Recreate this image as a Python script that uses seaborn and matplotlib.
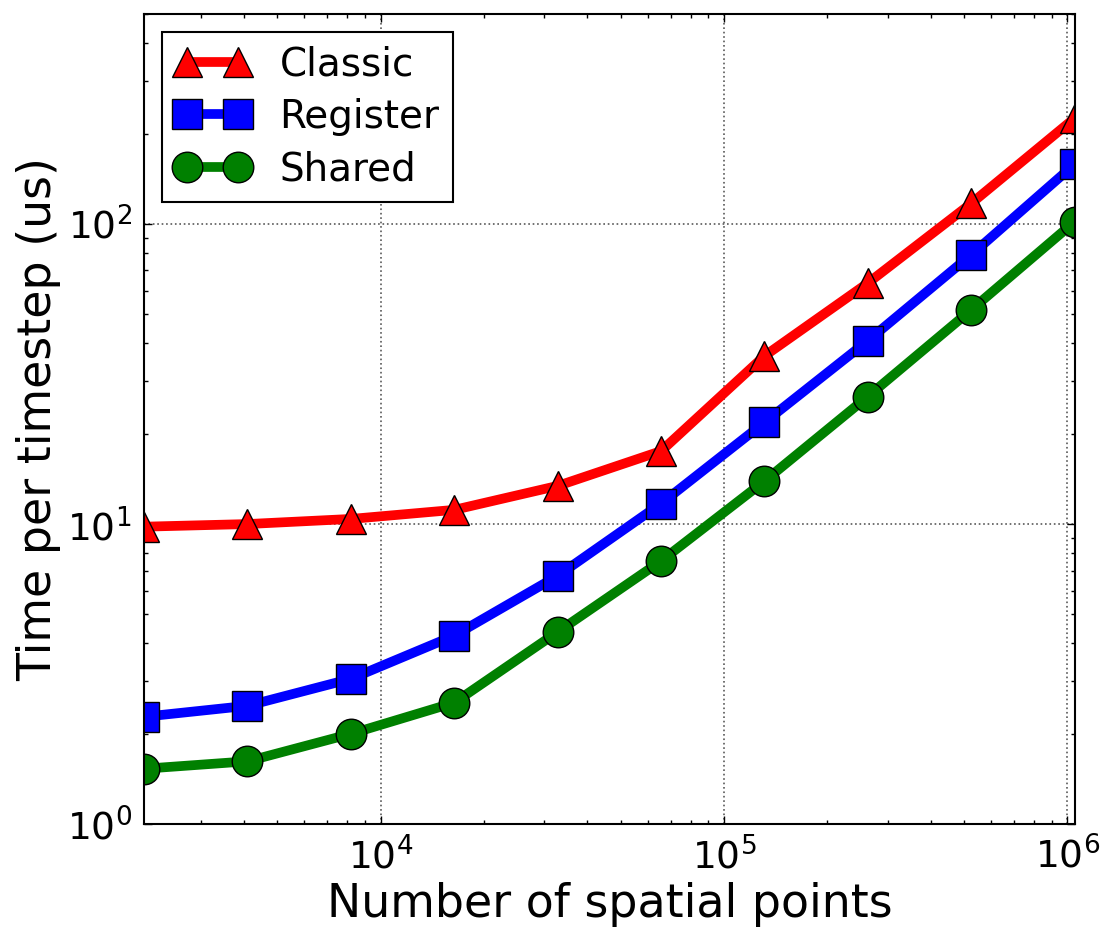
import numpy as np
import pandas as pd
import seaborn as sns
import matplotlib
matplotlib.use("Agg")
import matplotlib.pyplot as plt

# datos
points = [2048, 4096, 8192, 16384, 32768, 65536, 131072, 262144, 524288, 1048576]
classic = [9.8, 10.0, 10.4, 11.15, 13.4, 17.5, 36.3, 63.5, 117, 225]
register = [2.28, 2.48, 3.05, 4.25, 6.72, 11.7, 21.8, 40.8, 78.9, 158]
shared = [1.53, 1.62, 2.0, 2.54, 4.37, 7.53, 13.9, 26.6, 51.7, 101.7]

sns.set_style("ticks", {
    "xtick.direction": "in",
    "ytick.direction": "in",
    "axes.edgecolor": "black",
    "text.color": "black",
    "axes.labelcolor": "black",
    "xtick.color": "black",
    "ytick.color": "black",
})
plt.rcParams['font.family'] = ['DejaVu Sans']
plt.rcParams['mathtext.default'] = 'regular'

fig = plt.figure(figsize=(11.17, 9.43), dpi=100)
ax = fig.add_axes([0.129, 0.126, 0.833, 0.859])

series = [
    ('Classic', classic, 'red', '^'),
    ('Register', register, 'blue', 's'),
    ('Shared', shared, 'green', 'o'),
]
for name, vals, col, mk in series:
    sns.lineplot(x=points, y=vals, ax=ax, color=col, marker=mk, markersize=22,
                 linewidth=7, markeredgecolor='black', markeredgewidth=1,
                 label=name, errorbar=None)

ax.set_xscale('log')
ax.set_yscale('log')
ax.set_xlim(2048, 1048576)
ax.set_ylim(1, 500)

ax.grid(True, which='major', linestyle=':', color='0.35', linewidth=1.2)
ax.tick_params(which='both', top=True, right=True, direction='in', labelsize=27, pad=9)
ax.tick_params(which='major', length=6, width=1)
ax.tick_params(which='minor', length=3, width=1)
for sp in ax.spines.values():
    sp.set_linewidth(1.5)
    sp.set_visible(True)

ax.set_xlabel('Number of spatial points', fontsize=33)
ax.set_ylabel('Time per timestep (us)', fontsize=33)

handles, labels = ax.get_legend_handles_labels()
leg = ax.legend(handles, labels, loc='upper left', numpoints=2, fontsize=28,
                fancybox=False, edgecolor='black', framealpha=1,
                handlelength=1.9, handletextpad=0.77, labelspacing=0.37,
                borderpad=0.36, borderaxespad=0.45)
leg.get_frame().set_linewidth(1.5)

plt.savefig('out.png', dpi=100)
